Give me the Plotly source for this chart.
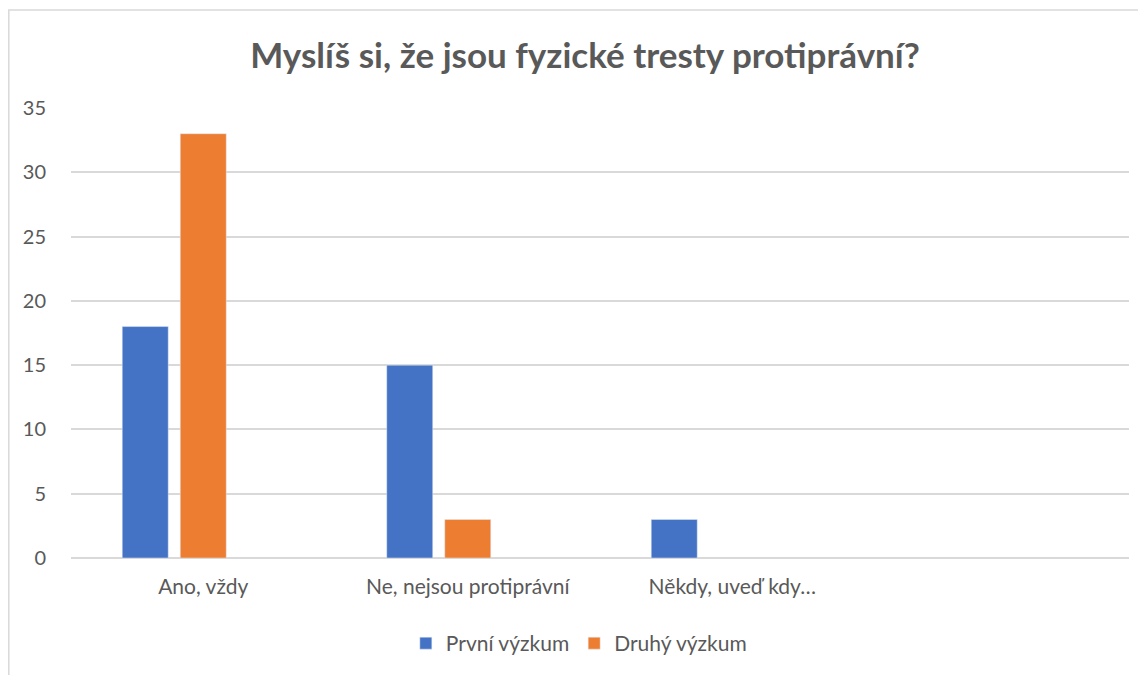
import plotly.graph_objects as go

categories = ["Ano, vždy", "Ne, nejsou protiprávní", "Někdy, uveď kdy…", " "]
prvni = [18, 15, 3, None]
druhy = [33, 3, None, None]
treti = [None, None, None, None]

FONT = "Lato, 'Open Sans', sans-serif"
GRAY = "#595959"

fig = go.Figure()
fig.add_trace(go.Bar(x=categories, y=prvni, name="První výzkum", marker_color="#4472C4"))
fig.add_trace(go.Bar(x=categories, y=druhy, name="Druhý výzkum", marker_color="#ED7D31"))
# empty third series keeps the bars shifted left as in the original
fig.add_trace(go.Bar(x=categories, y=treti, name="", showlegend=False, marker_color="#A5A5A5"))

fig.update_layout(
    width=1146,
    height=675,
    paper_bgcolor="white",
    plot_bgcolor="white",
    barmode="group",
    bargap=0.342,
    bargroupgap=0.207,
    margin=dict(l=63, r=25, t=100, b=125, autoexpand=False),
    title=dict(
        text="<b>Myslíš si, že jsou fyzické tresty protiprávní?</b>",
        x=0.5035, xanchor="center", y=0.93, yanchor="middle",
        font=dict(family=FONT, size=35, color=GRAY),
    ),
    font=dict(family=FONT, color=GRAY),
    legend=dict(
        orientation="h", x=0.48, xanchor="center", y=-0.19, yanchor="middle",
        font=dict(size=21, color=GRAY), itemwidth=30,
    ),
    showlegend=True,
)
fig.update_xaxes(
    type="category", categoryorder="array", categoryarray=categories,
    range=[-0.5, 3.5], showgrid=False, showline=False, ticks="",
    tickfont=dict(size=21, color=GRAY), ticklabelstandoff=14, automargin=False,
)
fig.update_yaxes(
    range=[0, 35], dtick=5, showgrid=True, gridcolor="#D9D9D9", gridwidth=1.5,
    zeroline=True, zerolinecolor="#D9D9D9", zerolinewidth=1.5, showline=False,
    tickfont=dict(size=20, color=GRAY), ticklabelstandoff=24, automargin=False,
)
# chart-area border
fig.add_shape(type="rect", xref="paper", yref="paper",
              x0=-0.0588, x1=1.05, y0=-0.4, y1=1.218,
              line=dict(color="#D9D9D9", width=1.5), layer="below")

fig.write_html("out.html")
